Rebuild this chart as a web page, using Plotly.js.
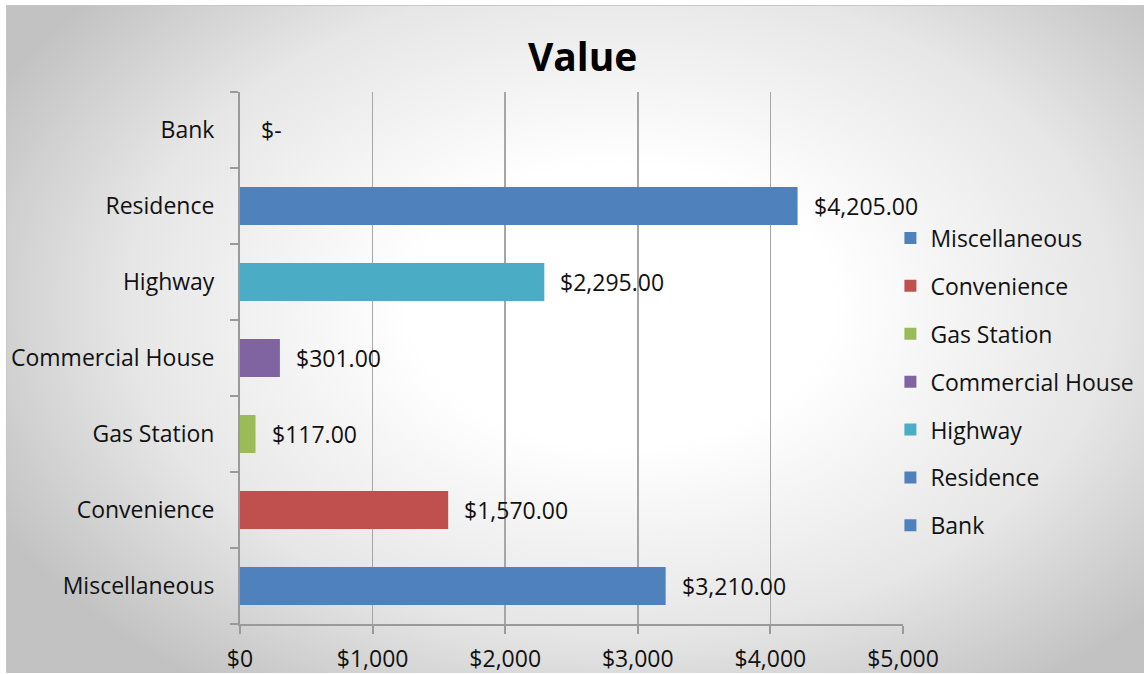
<!DOCTYPE html>
<html>
<head>
<meta charset="utf-8">
<script src="https://cdn.plot.ly/plotly-3.0.1.min.js"></script>
<style>
  html, body { margin: 0; padding: 0; background: #ffffff; }
  #bg {
    position: absolute; left: 6px; top: 5px; width: 1137px; height: 667px;
    border-top: 1px solid #c8c8c8; border-left: 1px solid #c8c8c8;
    background: radial-gradient(ellipse 62% 70% at 54% 45%, #ffffff 0%, #ffffff 30%, #e6e6e6 70%, #c2c2c2 100%);
  }
  #chart { position: absolute; left: 0; top: 0; width: 1147px; height: 674px; }
</style>
</head>
<body>
<div id="bg"></div>
<div id="chart"></div>
<script>
// Data (bottom-to-top order on the category axis; also legend order top-to-bottom)
const categories = ["Miscellaneous", "Convenience", "Gas Station", "Commercial House", "Highway", "Residence", "Bank"];
const values = [3210, 1570, 117, 301, 2295, 4205, 0];
const colors = ["#4F81BD", "#C0504D", "#9BBB59", "#8064A2", "#4BACC6", "#4F81BD", "#4F81BD"];
const xTickVals = [0, 1000, 2000, 3000, 4000, 5000];
const xTickText = ["$0", "$1,000", "$2,000", "$3,000", "$4,000", "$5,000"];

function fmt(v) {
  if (v === 0) return "$-";
  const parts = v.toFixed(2).split(".");
  parts[0] = parts[0].replace(/\B(?=(\d{3})+(?!\d))/g, ",");
  return "$" + parts.join(".");
}

const FONT = "'Open Sans', 'Noto Sans', sans-serif";
const FS = 23;

const traces = categories.map((c, i) => ({
  type: "bar",
  orientation: "h",
  name: c,
  legendgroup: c,
  x: [values[i]],
  y: [c],
  width: 0.5,
  marker: { color: colors[i] },
  hoverinfo: "x+y"
}));

const annotations = categories.map((c, i) => ({
  x: values[i],
  y: c,
  xref: "x",
  yref: "y",
  text: fmt(values[i]),
  showarrow: false,
  xanchor: "left",
  xshift: values[i] === 0 ? 19 : 14,
  font: { family: FONT, size: FS, color: "#111111" }
}));

const layout = {
  width: 1147,
  height: 674,
  paper_bgcolor: "rgba(0,0,0,0)",
  plot_bgcolor: "rgba(0,0,0,0)",
  margin: { l: 240, r: 244, t: 92, b: 50, pad: 0, autoexpand: false },
  barmode: "overlay",
  showlegend: true,
  title: {
    text: "<b>Value</b>",
    x: 0.508,
    xref: "container",
    xanchor: "center",
    y: 0.915,
    yref: "container",
    yanchor: "middle",
    font: { family: FONT, size: 39, color: "#000000" }
  },
  xaxis: {
    range: [0, 5000],
    tickvals: xTickVals,
    ticktext: xTickText,
    showgrid: true,
    gridcolor: "#a6a6a6",
    gridwidth: 1.5,
    zeroline: false,
    showline: true,
    linecolor: "#9a9a9a",
    linewidth: 2,
    ticks: "outside",
    ticklen: 8,
    tickwidth: 2,
    tickcolor: "#9a9a9a",
    ticklabelstandoff: 5,
    tickfont: { family: FONT, size: FS, color: "#111111" },
    automargin: false,
    fixedrange: true
  },
  yaxis: {
    type: "category",
    categoryorder: "array",
    categoryarray: categories,
    range: [-0.5, 6.5],
    showgrid: false,
    zeroline: false,
    showline: true,
    linecolor: "#9a9a9a",
    linewidth: 2,
    ticks: "outside",
    tickson: "boundaries",
    ticklen: 8,
    tickwidth: 2,
    tickcolor: "#9a9a9a",
    ticklabelstandoff: 19,
    tickfont: { family: FONT, size: FS, color: "#111111" },
    automargin: false,
    fixedrange: true
  },
  legend: {
    x: 0.981,
    xanchor: "left",
    y: (624 - 382) / 532,
    yref: "paper",
    yanchor: "middle",
    traceorder: "grouped",
    tracegroupgap: 15,
    bgcolor: "rgba(0,0,0,0)",
    font: { family: FONT, size: FS, color: "#111111" },
    itemclick: false,
    itemdoubleclick: false
  },
  annotations: annotations
};

Plotly.newPlot("chart", traces, layout, { displayModeBar: false, staticPlot: true });
</script>
</body>
</html>
